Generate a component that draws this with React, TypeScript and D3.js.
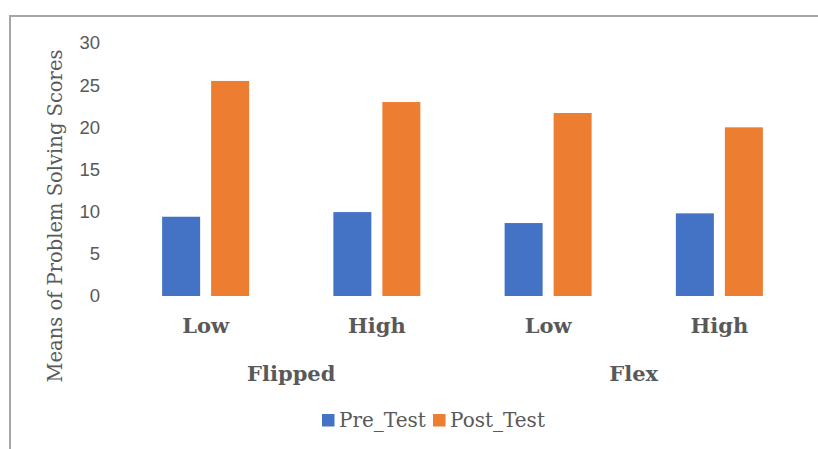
import React from "react";
import * as d3 from "d3";

const subCategories = ["Low", "High", "Low", "High"];
const groups = ["Flipped", "Flex"];
const seriesNames = ["Pre_Test", "Post_Test"];
const preTest = [9.4, 9.95, 8.65, 9.8];
const postTest = [25.5, 23.0, 21.7, 20.0];
const yTicks = [0, 5, 10, 15, 20, 25, 30];
const colors = ["#4472C4", "#ED7D31"];

const W = 818;
const H = 449;

export default function App() {
  const y = d3.scaleLinear().domain([0, 30]).range([296, 43]);
  const idx = subCategories.map((_, i) => String(i));
  const x = d3.scaleBand().domain(idx).range([120, 805]).padding(0);
  const bw = x.bandwidth();
  const inner = d3
    .scaleBand()
    .domain(seriesNames)
    .range([bw / 2 - 43.5, bw / 2 + 43.5])
    .paddingInner(11 / 49)
    .paddingOuter(0);
  const values = [preTest, postTest];
  const textColor = "#595959";

  return (
    <svg
      width={W}
      height={H}
      style={{ position: "absolute", left: 0, top: 0, display: "block" }}
    >
      <rect x={0} y={0} width={W} height={H} fill="#fff" />
      <rect
        x={10}
        y={16}
        width={W + 20}
        height={H + 20}
        fill="#fff"
        stroke="#a6a6a6"
        strokeWidth={2}
      />
      {/* y tick labels */}
      {yTicks.map((t) => (
        <text
          key={t}
          x={100}
          y={y(t)}
          dy="0.35em"
          textAnchor="end"
          fontFamily="'Liberation Sans', Arial, sans-serif"
          fontSize={18.5}
          fill={textColor}
        >
          {t}
        </text>
      ))}
      {/* y title */}
      <text
        transform={`translate(62,216) rotate(-90)`}
        textAnchor="middle"
        fontFamily="'DejaVu Serif', serif"
        fontSize={19.5}
        fill={textColor}
      >
        Means of Problem Solving Scores
      </text>
      {/* bars */}
      {seriesNames.map((s, si) =>
        idx.map((c, ci) => (
          <rect
            key={s + c}
            x={(x(c) as number) + (inner(s) as number)}
            y={y(values[si][ci])}
            width={inner.bandwidth()}
            height={y(0) - y(values[si][ci])}
            fill={colors[si]}
          />
        ))
      )}
      {/* sub-category labels */}
      {idx.map((c, ci) => (
        <text
          key={"l" + c}
          x={(x(c) as number) + bw / 2}
          y={333}
          textAnchor="middle"
          fontFamily="'DejaVu Serif', serif"
          fontWeight="bold"
          fontSize={21}
          fill={textColor}
        >
          {subCategories[ci]}
        </text>
      ))}
      {/* group labels */}
      {groups.map((g, gi) => {
        const a = (x(String(gi * 2)) as number) + bw / 2;
        const b = (x(String(gi * 2 + 1)) as number) + bw / 2;
        return (
          <text
            key={g}
            x={(a + b) / 2}
            y={381}
            textAnchor="middle"
            fontFamily="'DejaVu Serif', serif"
            fontWeight="bold"
            fontSize={21}
            fill={textColor}
          >
            {g}
          </text>
        );
      })}
      {/* legend */}
      {seriesNames.map((s, si) => {
        const lx = [322, 433][si];
        return (
          <g key={"lg" + s}>
            <rect x={lx} y={414} width={12.5} height={12.5} fill={colors[si]} />
            <text
              x={lx + 17}
              y={427}
              fontFamily="'DejaVu Serif', serif"
              fontSize={20}
              fill={textColor}
            >
              {s}
            </text>
          </g>
        );
      })}
    </svg>
  );
}
